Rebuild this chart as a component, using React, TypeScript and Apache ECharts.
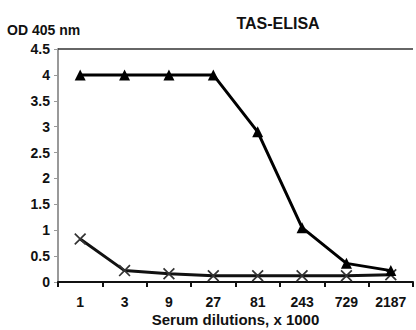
import React, { useEffect, useRef } from "react";
import * as echarts from "echarts";

const categories = ["1", "3", "9", "27", "81", "243", "729", "2187"];
const triangleSeries = [4, 4, 4, 4, 2.9, 1.05, 0.36, 0.22];
const crossSeries = [0.83, 0.22, 0.16, 0.12, 0.12, 0.12, 0.12, 0.14];
const yTicks = [0, 0.5, 1, 1.5, 2, 2.5, 3, 3.5, 4, 4.5];

const crossPath =
  "path://M0,1L1,0L5,4L9,0L10,1L6,5L10,9L9,10L5,6L1,10L0,9L4,5Z";

export default function App() {
  const ref = useRef<HTMLDivElement>(null);
  useEffect(() => {
    if (!ref.current) return;
    const chart = echarts.init(ref.current, null, { renderer: "svg" });
    const font = "Arial, 'Liberation Sans', sans-serif";
    const txt = { fontFamily: font, fontWeight: "bold" as const, color: "#111" };
    const yMax = yTicks[yTicks.length - 1];
    chart.setOption({
      animation: false,
      title: {
        text: "TAS-ELISA",
        left: 273,
        top: 10,
        textAlign: "center",
        textStyle: { ...txt, fontSize: 16 },
      },
      grid: {
        left: 58,
        right: 3,
        top: 49,
        bottom: 48,
        show: false,
        containLabel: false,
        outerBoundsMode: "none",
      },
      xAxis: {
        type: "category",
        data: categories,
        boundaryGap: true,
        name: "Serum dilutions, x 1000",
        nameLocation: "middle",
        nameGap: 30,
        nameMoveOverlap: false,
        nameTextStyle: { ...txt, fontSize: 15 },
        axisLine: { lineStyle: { color: "#111", width: 2 } },
        axisTick: { show: true, length: 5, lineStyle: { color: "#111", width: 2 } },
        axisLabel: { ...txt, fontSize: 14, margin: 13 },
        splitLine: { show: false },
      },
      yAxis: {
        type: "value",
        min: 0,
        max: yMax,
        interval: 0.5,
        name: "OD 405 nm",
        nameLocation: "end",
        nameGap: 12,
        nameMoveOverlap: false,
        nameTextStyle: {
          ...txt,
          fontSize: 14,
          align: "left",
          padding: [0, 0, 0, -51],
        },
        axisLine: { show: true, lineStyle: { color: "#999", width: 2 } },
        axisTick: { show: true, length: 4, lineStyle: { color: "#999", width: 1 } },
        axisLabel: { ...txt, fontSize: 14, margin: 8 },
        splitLine: { show: false },
      },
      series: [
        {
          type: "line",
          data: crossSeries,
          symbol: crossPath,
          symbolSize: 12,
          lineStyle: { color: "#111", width: 3 },
          itemStyle: { color: "#333" },
          z: 2,
          markLine: {
            silent: true,
            symbol: "none",
            label: { show: false },
            emphasis: { disabled: true },
            data: [
              [
                { coord: [7.5, 0], lineStyle: { color: "#aaa", width: 1.5, type: "solid" } },
                { coord: [7.5, yMax] },
              ],
              { yAxis: yMax, lineStyle: { color: "#333", width: 1.5, type: "solid" } },
            ],
          },
        },
        {
          type: "line",
          data: triangleSeries,
          symbol: "triangle",
          symbolSize: 11,
          lineStyle: { color: "#000", width: 3 },
          itemStyle: { color: "#000" },
          z: 3,
        },
      ],
    });
    return () => chart.dispose();
  }, []);
  return (
    <div
      ref={ref}
      style={{ position: "fixed", left: 0, top: 0, width: 416, height: 330, background: "#fff" }}
    />
  );
}
